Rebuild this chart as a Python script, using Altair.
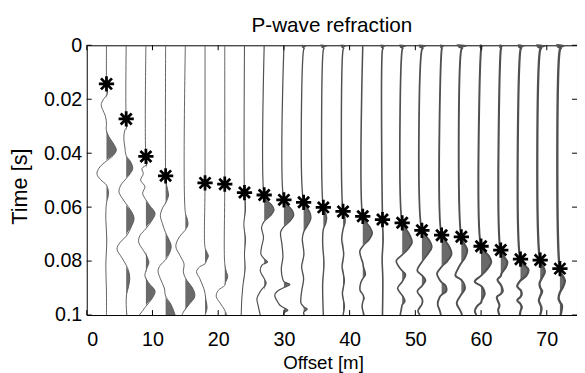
import altair as alt
import pandas as pd

# ---- data: time in ms, trace deflection in m ----
OFFSETS = [3, 6, 9, 12, 15, 18, 21, 24, 27, 30, 33, 36, 39, 42, 45, 48, 51, 54, 57, 60, 63, 66, 69, 72]

T03 = [0, 13.5, 15.9, 17.8, 20.2, 22.0, 23.8, 26.3, 29.3, 31.1, 33.6, 36.6, 38.8, 40.9, 42.9, 45.1, 47.6, 49.8, 51.8, 54.3, 56.1, 58.5, 64.6, 71.9, 81.6, 91.4, 100]
D03 = [0, 0, 0.05, 0.15, -0.5, -0.8, -0.6, -0.15, 0, -0.05, 0.3, 1.1, 1.5, 1.0, 0, -1.0, -1.45, -0.9, 0, 0.3, 0.25, 0, -0.1, 0.05, -0.1, 0, 0]

T06 = [0, 27.3, 29.9, 31.8, 34.8, 37.8, 40.9, 43.3, 45.7, 47.6, 49.4, 51.8, 54.3, 56.7, 58.8, 61.6, 64.2, 67.2, 70.8, 73.0, 75.5, 78.6, 81.5, 84.0, 86.5, 89.5, 92.5, 96.0, 100]
D06 = [0, 0, 0.15, -0.25, -0.35, -0.2, 0, 0.7, 1.0, 0.6, 0, -0.8, -1.1, -0.6, 0, 0.8, 1.2, 0.8, 0, -0.9, -1.4, -0.7, 0, 0.4, 0.55, 0.35, 0.05, 0, 0.1]

T09 = [0, 41.2, 43.9, 45.7, 47.6, 50.0, 52.4, 54.9, 57.3, 59.5, 62.3, 65.0, 68.0, 70.5, 73.0, 76.0, 78.5, 80.5, 83.0, 85.5, 88.0, 91.2, 94.0, 96.8, 100]
D09 = [0, 0, 0.2, -0.6, -0.4, -0.8, -0.15, -0.5, 0, 0.6, 1.4, 0.9, 0, -0.9, -1.1, -0.4, 0.2, 0.45, 0.1, -0.15, 0.4, 1.4, 0.9, 0, -1.0]

T12 = [0, 48.4, 50.5, 53.5, 55.5, 58.0, 60.0, 63.0, 66.0, 69.5, 72.0, 74.5, 77.0, 79.5, 81.5, 83.6, 86.5, 90.0, 93.0, 96.0, 100]
D12 = [0, 0, 0.05, 0.3, 0.45, 0.1, -0.4, -0.8, -0.5, 0, 0.5, 0.85, 0.6, 0, -0.8, -1.15, -0.8, -0.2, 0, 0.8, 1.45]

T15 = [0, 62.0, 64.5, 66.5, 68.5, 71.0, 74.5, 78.0, 81.0, 84.0, 86.2, 88.0, 90.0, 93.0, 96.0, 98.5, 100]
D15 = [0, 0, 0.3, 0.4, 0, -0.9, -1.45, -0.8, -0.2, -0.3, 0, 0.5, 1.1, 1.45, 0.6, -0.2, -0.5]

T18 = [0, 51.0, 75.0, 76.3, 78.1, 79.9, 81.0, 82.1, 83.9, 86.5, 90.1, 92.0, 93.8, 97.4, 100]
D18 = [0, 0, 0, 0.2, 0.5, 0.2, 0, -0.8, -1.3, -0.8, -0.2, 0, 0.1, 0.3, 0.0]

T21 = [0, 51.5, 81.0, 83.6, 85.8, 88.0, 89.0, 90.9, 93.1, 95.6, 98.2, 100]
D21 = [0, 0, 0, 0.2, 0.45, 0.1, 0, -1.0, -1.3, -0.7, 0, 0.3]

T24 = [0, 54.6, 57.3, 60.9, 66.4, 71.9, 77.4, 82.8, 88.3, 93.8, 100]
D24 = [0, 0, 0.1, 0.15, -0.1, 0.15, 0, 0.1, -0.2, -0.4, -0.5]

T27 = [0, 55.8, 57.3, 59.1, 60.9, 63.1, 65.3, 67.5, 71.2, 74.8, 77.4, 79.2, 80.3, 81.4, 83.6, 86.5, 88.3, 90.9, 93.8, 96.7, 100]
D27 = [0, 0, 0.3, 1.1, 1.5, 1.0, 0, -0.4, -0.1, -0.4, -0.5, 0, 0.5, -0.3, -0.6, 0, 0.3, -0.5, -1.1, -0.9, -0.6]

T30 = [0, 57.3, 59.1, 60.9, 62.8, 65.0, 67.2, 69.3, 73.7, 78.5, 82.8, 86.5, 87.6, 88.7, 89.8, 91.2, 92.7, 94.5, 96.4, 97.3, 98.2, 99.2, 100]
D30 = [0, 0, 0.5, 1.2, 1.5, 1.0, 0, -0.5, -0.3, -0.15, -0.4, -0.2, 0, 0.9, 0, -1.0, -1.4, -1.1, -0.6, 0, 0.6, 0, 0]

T33 = [0, 0.25, 0.6, 1.0, 1.6, 58.0, 60.2, 62.0, 64.2, 66.8, 69.3, 71.9, 77.4, 82.1, 86.5, 91.2, 95.6, 96.9, 97.8, 99.0, 100]
D33 = [-0.35, 0.35, -0.2, 0.1, 0, 0, 0.5, 0.95, 1.1, 0.6, 0, -0.2, 0.05, -0.3, 0, -0.3, -0.4, 0, 0.55, 0, 0.1]

T36 = [0, 0.25, 0.6, 1.0, 1.6, 60.2, 61.7, 63.9, 66.1, 68.2, 73.7, 81.0, 88.3, 100]
D36 = [-0.45, 0.45, -0.25, 0.1, 0, 0, 0.25, 0.5, 0.35, 0, -0.1, 0.1, -0.1, 0]

T39 = [0, 0.25, 0.6, 1.0, 1.6, 61.7, 63.5, 65.7, 68.2, 71.9, 77.4, 82.1, 87.2, 92.0, 96.7, 100]
D39 = [-0.35, 0.35, -0.2, 0.1, 0, 0, 0.25, 0.3, 0, -0.2, 0.1, -0.15, 0.2, -0.1, 0.2, 0]

T42 = [0, 63.5, 65.3, 67.5, 69.7, 71.9, 74.5, 76.3, 79.2, 80.6, 82.1, 85.0, 86.5, 88.0, 90.9, 92.3, 93.8, 95.2, 96.7, 98.3, 100]
D42 = [0, 0, 0.4, 1.1, 1.45, 1.0, 0, -0.45, -0.2, 0, 0.1, 0.4, 0, -0.3, -0.4, 0, 0.2, 0, -0.1, 0, 0.2]

T45 = [0, 0.25, 0.6, 1.0, 1.6, 64.6, 71.9, 79.2, 86.5, 100]
D45 = [-0.3, 0.3, -0.15, 0.1, 0, 0, 0.1, -0.05, 0.05, 0]

T48 = [0, 0.25, 0.6, 1.0, 1.6, 65.7, 67.5, 70.1, 73.0, 75.5, 77.7, 79.9, 82.1, 83.6, 85.0, 87.6, 90.1, 92.7, 94.9, 96.2, 97.4, 100]
D48 = [-0.45, 0.45, -0.25, 0.1, 0, 0, 0.4, 1.1, 1.5, 0.9, 0, -0.9, -0.5, 0, 0.5, 0, -0.7, 0, 0.4, 0, -0.1, -0.3]

T51 = [0, 0.25, 0.6, 1.0, 1.6, 68.6, 70.4, 72.6, 74.8, 77.4, 80.3, 83.5, 85.3, 87.1, 89.2, 91.2, 93.8, 94.9, 96.0, 98.5, 100]
D51 = [-0.5, 0.5, -0.3, 0.15, 0, 0, 0.5, 1.2, 1.5, 0.9, 0, -0.7, 0, 0.55, 0, -0.7, 0, 0.1, 0, -0.6, -0.3]

T54 = [0, 0.25, 0.6, 1.0, 1.6, 70.4, 72.3, 74.8, 77.4, 79.9, 82.1, 84.7, 86.9, 87.9, 89.1, 91.2, 92.5, 93.4, 96.0, 98.2, 100]
D54 = [-0.25, 0.25, -0.1, 0.05, 0, 0, 0.5, 1.2, 1.5, 0.9, 0, -0.7, -0.3, 0, 0.6, 0.7, 0, -0.3, -0.6, -0.3, -0.1]

T57 = [0, 0.25, 0.6, 1.0, 1.6, 71.2, 73.4, 75.9, 78.5, 80.7, 82.8, 85.4, 87.0, 90.1, 92.3, 95.6, 98.2, 99.2, 100]
D57 = [-0.7, 0.7, -0.35, 0.15, 0, 0, 0.4, 0.9, 0.6, 0, -0.5, -0.9, 0, 0.55, 0, -0.7, -0.2, 0, 0.1]

T60 = [0, 0.25, 0.6, 1.0, 1.6, 74.5, 76.3, 78.1, 80.3, 82.8, 85.4, 87.6, 89.2, 90.1, 92.3, 94.5, 95.4, 96.7, 98.5, 100]
D60 = [-0.2, 0.2, -0.1, 0.05, 0, 0, 0.5, 1.2, 1.55, 1.0, 0, -0.95, 0, 0.3, 0.55, 0.1, 0, -0.6, -0.95, -0.7]

T63 = [0, 0.25, 0.6, 1.0, 1.6, 76.6, 78.1, 80.3, 82.1, 84.7, 85.5, 86.9, 88.8, 89.9, 91.2, 92.2, 93.4, 96.4, 98.2, 100]
D63 = [-0.2, 0.2, -0.1, 0.05, 0, 0, 0.4, 1.0, 0.8, 0.1, 0, -0.5, 0, 0.2, 0.3, 0, -0.6, -0.2, -0.4, -0.2]

T66 = [0, 0.25, 0.6, 1.0, 1.6, 79.6, 81.0, 83.2, 85.4, 87.2, 89.4, 90.7, 92.0, 93.3, 94.5, 95.9, 97.1, 98.6, 100]
D66 = [-0.4, 0.4, -0.2, 0.1, 0, 0, 0.4, 1.2, 0.9, 0, -0.5, 0, 0.2, 0, -0.5, 0, 0.2, 0, -0.1]

T69 = [0, 0.25, 0.6, 1.0, 1.6, 79.9, 81.8, 84.0, 86.1, 87.5, 88.3, 89.8, 91.2, 93.0, 94.5, 96.0, 97.4, 100]
D69 = [-0.6, 0.6, -0.3, 0.15, 0, 0, 0.4, 0.7, 0.3, 0, -0.1, 0, 0.3, 0, -0.2, 0, 0.2, 0]

T72 = [0, 0.25, 0.6, 1.0, 1.6, 83.2, 85.0, 87.2, 89.4, 91.6, 93.8, 95.2, 96.4, 100]
D72 = [-0.55, 0.55, -0.25, 0.15, 0, 0, 0.3, 0.75, 0.5, 0, -0.2, 0, 0.3, 0.1]

# first-arrival picks
PICK_OFFSET = [3, 6, 9, 12, 18, 21, 24, 27, 30, 33, 36, 39, 42, 45, 48, 51, 54, 57, 60, 63, 66, 69, 72]
PICK_MS = [14.3, 27.3, 41.2, 48.4, 51.0, 51.5, 54.6, 55.5, 57.3, 58.2, 60.1, 61.6, 63.4, 64.6, 65.8, 68.6, 70.4, 71.0, 74.5, 75.9, 79.3, 79.6, 82.8]

X_TICKS = [0, 10, 20, 30, 40, 50, 60, 70]
Y_TICKS = [0, 0.02, 0.04, 0.06, 0.08, 0.1]

TRACE_T = [T03, T06, T09, T12, T15, T18, T21, T24, T27, T30, T33, T36,
           T39, T42, T45, T48, T51, T54, T57, T60, T63, T66, T69, T72]
TRACE_D = [D03, D06, D09, D12, D15, D18, D21, D24, D27, D30, D33, D36,
           D39, D42, D45, D48, D51, D54, D57, D60, D63, D66, D69, D72]

rows = []
for off, ts, ds in zip(OFFSETS, TRACE_T, TRACE_D):
    for t, d in zip(ts, ds):
        rows.append({"trace": off, "base": off, "t": t / 1000.0,
                     "xw": off + d, "xf": off + max(d, 0.0)})
df = pd.DataFrame(rows)
picks = pd.DataFrame({"offset": PICK_OFFSET, "t": [v / 1000.0 for v in PICK_MS]})
xt = pd.DataFrame({"v": X_TICKS})
yt = pd.DataFrame({"v": Y_TICKS})

W, H = 498, 274
FONT = "Liberation Sans"

xscale = alt.Scale(domain=[0, 74.6], nice=False, zero=False)
yscale = alt.Scale(domain=[0, 0.1], nice=False, reverse=True)

xaxis = alt.Axis(values=X_TICKS, format="~g", grid=False, domain=False, ticks=False,
                 tickSize=0, labelPadding=15, labelFontSize=20, labelFont=FONT,
                 labelColor="#000000", title="Offset [m]", titleFontSize=19,
                 titleFont=FONT, titleFontWeight="normal", titleColor="#000000",
                 titleX=240, titleY=54, titleBaseline="alphabetic", titleAlign="center")
yaxis = alt.Axis(values=Y_TICKS, format="~g", grid=False, domain=False, ticks=False,
                 tickSize=0, labelPadding=5, labelFontSize=20, labelFont=FONT,
                 labelColor="#000000", title="Time [s]", titleFontSize=22,
                 titleFont=FONT, titleFontWeight="normal", titleColor="#000000",
                 titleX=-61, titleY=143, titleAngle=270, titleBaseline="alphabetic",
                 titleAlign="center")

# base layer carries the axes (invisible points)
base = alt.Chart(df).mark_point(opacity=0, size=1).encode(
    y=alt.Y("t:Q", scale=yscale, axis=yaxis),
    x=alt.X("xw:Q", scale=xscale, axis=xaxis),
)

fill = alt.Chart(df).mark_area(orient="horizontal", interpolate="monotone",
                               color="#6a6a6a").encode(
    y=alt.Y("t:Q"),
    x=alt.X("xf:Q", stack=None),
    x2=alt.X2("base"),
    detail="trace:N",
)

line = alt.Chart(df).mark_line(interpolate="catmull-rom", color="#505050",
                               strokeJoin="round").encode(
    y=alt.Y("t:Q"),
    x=alt.X("xw:Q"),
    detail="trace:N",
    order="t:Q",
    strokeWidth=alt.StrokeWidth("trace:Q", legend=None,
                                scale=alt.Scale(domain=[3, 21, 27, 48, 72],
                                                range=[0.9, 0.9, 1.2, 1.7, 2.4])),
)

ASTERISK = "M0,-1L0,1M-1,0L1,0M-0.72,-0.72L0.72,0.72M-0.72,0.72L0.72,-0.72"
stars = alt.Chart(picks).mark_point(shape=ASTERISK, size=240, filled=False,
                                    stroke="black", strokeWidth=2.8, opacity=1).encode(
    x="offset:Q", y="t:Q")

tick_b = alt.Chart(xt).mark_rule(color="black", strokeWidth=1).encode(
    x="v:Q", y=alt.value(H), y2=alt.value(H - 5))
tick_t = alt.Chart(xt).mark_rule(color="black", strokeWidth=1).encode(
    x="v:Q", y=alt.value(0), y2=alt.value(5))
tick_l = alt.Chart(yt).mark_rule(color="black", strokeWidth=1).encode(
    y="v:Q", x=alt.value(0), x2=alt.value(5))
tick_r = alt.Chart(yt).mark_rule(color="black", strokeWidth=1).encode(
    y="v:Q", x=alt.value(W), x2=alt.value(W - 5))

chart = alt.layer(base, fill, line, stars, tick_b, tick_t, tick_l, tick_r).properties(
    width=W, height=H,
    title=alt.Title("P-wave refraction", fontSize=21, fontWeight="normal", font=FONT,
                    color="black", anchor="middle", baseline="alphabetic", offset=6, dy=24),
    autosize="none",
    padding={"left": 80, "top": 35, "right": 0, "bottom": 56},
).configure_view(stroke="black", strokeWidth=1)

chart.save("out.html", embed_options={"renderer": "svg", "actions": False})
